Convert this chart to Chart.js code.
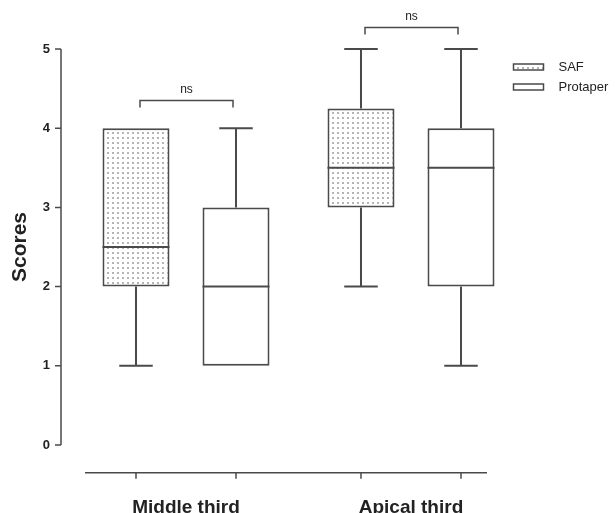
<!DOCTYPE html>
<html>
<head>
<meta charset="utf-8">
<script src="https://cdn.jsdelivr.net/npm/chart.js@4.4.0/dist/chart.umd.min.js"></script>
<style>
  html, body { margin: 0; padding: 0; background: #fff; }
  #wrap { width: 615px; height: 513px; }
</style>
</head>
<body>
<div id="wrap"><canvas id="chart"></canvas></div>
<script>
// values
const groups = ['Middle third', 'Apical third'];
const seriesNames = ['SAF', 'Protaper'];
const safMin = [1, 2];
const safQ1 = [2, 3];
const safMed = [2.5, 3.5];
const safQ3 = [4, 4.25];
const safMax = [4, 5];
const proMin = [1, 1];
const proQ1 = [1, 2];
const proMed = [2, 3.5];
const proQ3 = [3, 4];
const proMax = [4, 5];
const yTicks = [0, 1, 2, 3, 4, 5];
const sigLevel = [4.35, 5.27];
const sigText = ['ns', 'ns'];
const xAxisLevel = -0.35;

const ink = '#4a4a4a';
const txt = '#222';
const font = '"Liberation Sans", Arial, sans-serif';

function dotPattern() {
  const c = document.createElement('canvas');
  c.width = 5; c.height = 5;
  const g = c.getContext('2d');
  g.fillStyle = '#fff';
  g.fillRect(0, 0, 5, 5);
  g.fillStyle = '#b4b4b4';
  g.fillRect(2, 2, 2, 2);
  return g.createPattern(c, 'repeat');
}
const dots = dotPattern();

// whiskers, medians, brackets, axes, legend
const boxPlot = {
  id: 'boxPlot',
  afterDatasetsDraw(chart) {
    const ctx = chart.ctx, y = chart.scales.y, area = chart.chartArea;
    ctx.save();
    ctx.strokeStyle = ink;
    ctx.lineWidth = 2;
    chart.data.datasets.forEach((ds, di) => {
      chart.getDatasetMeta(di).data.forEach((bar, i) => {
        const x = bar.x, w = bar.width, c = w / 4;
        const pMin = y.getPixelForValue(ds.min[i]);
        const pMax = y.getPixelForValue(ds.max[i]);
        const pQ1 = y.getPixelForValue(ds.data[i][0]);
        const pQ3 = y.getPixelForValue(ds.data[i][1]);
        const pMed = y.getPixelForValue(ds.med[i]);
        ctx.beginPath();
        if (ds.max[i] > ds.data[i][1]) {
          ctx.moveTo(x, pQ3); ctx.lineTo(x, pMax);
          ctx.moveTo(x - c, pMax); ctx.lineTo(x + c, pMax);
        }
        if (ds.min[i] < ds.data[i][0]) {
          ctx.moveTo(x, pQ1); ctx.lineTo(x, pMin);
          ctx.moveTo(x - c, pMin); ctx.lineTo(x + c, pMin);
        }
        ctx.moveTo(x - w / 2, pMed); ctx.lineTo(x + w / 2, pMed);
        ctx.stroke();
      });
    });

    // significance brackets
    const m0 = chart.getDatasetMeta(0).data, m1 = chart.getDatasetMeta(1).data;
    ctx.font = '12px ' + font;
    ctx.fillStyle = txt;
    ctx.textAlign = 'center';
    ctx.textBaseline = 'bottom';
    ctx.lineWidth = 1.5;
    sigLevel.forEach((lv, i) => {
      const x1 = m0[i].x + 4, x2 = m1[i].x - 3;
      const p = y.getPixelForValue(lv);
      ctx.beginPath();
      ctx.moveTo(x1, p + 7); ctx.lineTo(x1, p); ctx.lineTo(x2, p); ctx.lineTo(x2, p + 7);
      ctx.stroke();
      ctx.fillText(sigText[i], (x1 + x2) / 2, p - 5);
    });

    // y axis line and ticks
    const ax = area.left - 12.5;
    ctx.lineWidth = 1.5;
    ctx.beginPath();
    ctx.moveTo(ax, y.getPixelForValue(yTicks[0]));
    ctx.lineTo(ax, y.getPixelForValue(yTicks[yTicks.length - 1]));
    yTicks.forEach(v => {
      const p = y.getPixelForValue(v);
      ctx.moveTo(ax - 6, p); ctx.lineTo(ax, p);
    });
    // x axis line and ticks
    const py = y.getPixelForValue(xAxisLevel);
    ctx.moveTo(area.left + 11.5, py);
    ctx.lineTo(area.right - 36.5, py);
    chart.data.datasets.forEach((ds, di) => {
      chart.getDatasetMeta(di).data.forEach(bar => {
        ctx.moveTo(bar.x, py); ctx.lineTo(bar.x, py + 6);
      });
    });
    ctx.stroke();

    // legend
    ctx.font = '13px ' + font;
    ctx.textAlign = 'left';
    ctx.textBaseline = 'middle';
    chart.data.datasets.forEach((ds, di) => {
      const lx = area.right - 10, ly = area.top + 18 + di * 20;
      ctx.fillStyle = ds.backgroundColor;
      ctx.fillRect(lx, ly - 3, 30, 6);
      ctx.lineWidth = 1.5;
      ctx.strokeRect(lx, ly - 3, 30, 6);
      ctx.fillStyle = txt;
      ctx.fillText(ds.label, lx + 45, ly);
    });
    ctx.restore();
  }
};

new Chart(document.getElementById('chart'), {
  type: 'bar',
  data: {
    labels: groups,
    datasets: [
      { label: seriesNames[0], data: safQ1.map((v, i) => [v, safQ3[i]]),
        min: safMin, med: safMed, max: safMax,
        backgroundColor: dots, borderColor: ink, borderWidth: 2, borderSkipped: false },
      { label: seriesNames[1], data: proQ1.map((v, i) => [v, proQ3[i]]),
        min: proMin, med: proMed, max: proMax,
        backgroundColor: '#fff', borderColor: ink, borderWidth: 2, borderSkipped: false }
    ]
  },
  options: {
    responsive: true,
    maintainAspectRatio: false,
    animation: false,
    categoryPercentage: 0.889,
    barPercentage: 0.67,
    layout: { padding: { top: 49, right: 91.5, left: 0, bottom: 0 } },
    plugins: { legend: { display: false }, tooltip: { enabled: false } },
    scales: {
      x: {
        grid: { display: false, drawTicks: false },
        border: { display: false },
        ticks: { color: txt, padding: 51, font: { family: font, size: 19, weight: 'bold' } },
        afterFit(s) { s.height = 68; }
      },
      y: {
        min: 0, max: 5,
        grid: { display: false, drawTicks: false },
        border: { display: false },
        afterBuildTicks(s) { s.ticks = yTicks.map(v => ({ value: v })); },
        ticks: { color: txt, padding: 23.5, font: { family: font, size: 13, weight: 'bold' } },
        title: { display: true, text: 'Scores', color: txt, padding: { top: 8, bottom: 0 },
          font: { family: font, size: 21, weight: 'bold' } },
        afterFit(s) { s.width = 73.5; }
      }
    }
  },
  plugins: [boxPlot]
});
</script>
</body>
</html>
